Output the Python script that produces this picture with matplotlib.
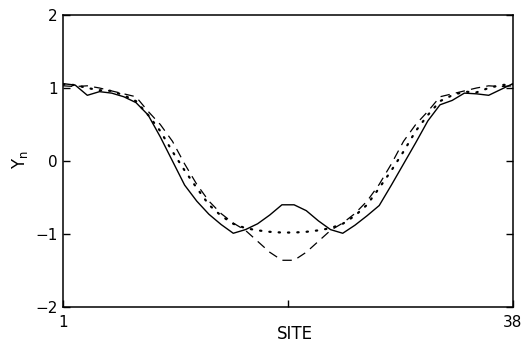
import matplotlib
matplotlib.use("Agg")
import matplotlib.pyplot as plt

# lattice sites and the three profiles Y_n
sites = list(range(1, 39))

solid = [1.06, 1.04, 0.90, 0.95, 0.93, 0.88, 0.80, 0.63, 0.33, 0.00,
         -0.33, -0.55, -0.73, -0.87, -0.99, -0.94, -0.86, -0.74, -0.60, -0.60,
         -0.68, -0.82, -0.94, -0.99, -0.88, -0.75, -0.61, -0.33, -0.04, 0.25,
         0.55, 0.77, 0.83, 0.93, 0.92, 0.90, 0.98, 1.06]

dotted = [1.05, 1.04, 1.00, 0.97, 0.96, 0.90, 0.82, 0.63, 0.41, 0.13,
          -0.13, -0.37, -0.60, -0.75, -0.86, -0.92, -0.95, -0.97, -0.98, -0.98,
          -0.97, -0.95, -0.92, -0.86, -0.75, -0.60, -0.37, -0.13, 0.13, 0.41,
          0.63, 0.82, 0.90, 0.95, 0.94, 1.00, 1.04, 1.05]

dashed = [1.03, 1.02, 1.03, 1.00, 0.96, 0.92, 0.88, 0.68, 0.50, 0.27,
          -0.04, -0.32, -0.55, -0.72, -0.85, -0.95, -1.10, -1.25, -1.36, -1.36,
          -1.25, -1.10, -0.95, -0.85, -0.72, -0.55, -0.32, -0.04, 0.27, 0.50,
          0.68, 0.88, 0.92, 0.96, 1.00, 1.03, 1.02, 1.03]

y_ticks = [-2, -1, 0, 1, 2]
x_ticks = [1, 19.5, 38]
x_ticklabels = ['1', '', '38']

plt.rcParams['font.family'] = ['DejaVu Sans']

fig = plt.figure(figsize=(5.27, 3.51), dpi=100)
ax = fig.add_axes([63 / 527, 1 - 307 / 351, 450 / 527, 292 / 351])

ax.plot(sites, solid, color='black', linewidth=1.0, linestyle='-')
ax.plot(sites, dotted, color='black', linewidth=1.6, linestyle=(0, (0.6, 3.6)),
        dash_capstyle='round')
ax.plot(sites, dashed, color='black', linewidth=0.9, linestyle=(0, (7.5, 5)))

ax.set_xlim(1, 38)
ax.set_ylim(-2, 2)

ax.set_yticks(y_ticks)
ax.set_yticklabels(['\u22122', '\u22121', '0', '1', '2'])
ax.set_xticks(x_ticks)
ax.set_xticklabels(x_ticklabels)

ax.tick_params(axis='y', direction='in', length=5, width=1.0, left=True, right=True,
               labelsize=11, pad=4)
ax.tick_params(axis='x', direction='in', length=5, width=1.0, top=False,
               labelsize=11, pad=6)

for s in ax.spines.values():
    s.set_linewidth(1.1)

fig.text(20 / 527, 1 - 160 / 351, 'Y$_\\mathrm{n}$', rotation=90,
         ha='center', va='center', fontsize=12)
fig.text(295 / 527, 1 - 334 / 351, 'SITE', ha='center', va='center', fontsize=12)

fig.savefig('out.png', dpi=100)
